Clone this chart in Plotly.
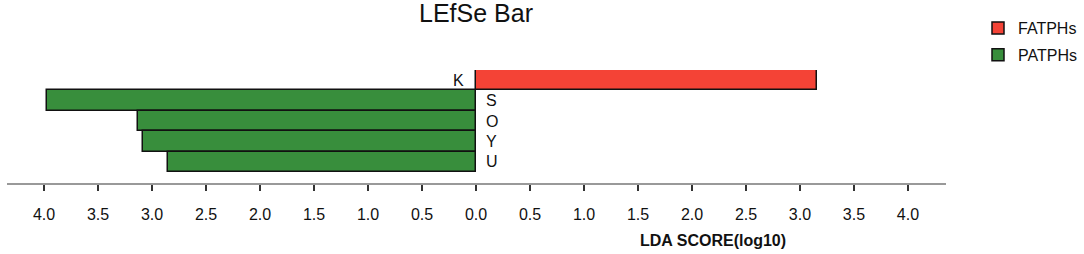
import plotly.graph_objects as go

# Data
features = ["K", "S", "O", "Y", "U"]
groups = ["FATPHs", "PATPHs", "PATPHs", "PATPHs", "PATPHs"]
lda_scores = [3.16, 3.97, 3.13, 3.08, 2.85]
group_names = ["FATPHs", "PATPHs"]
group_colors = {"FATPHs": "#F44336", "PATPHs": "#388E3C"}
tick_values = [-4.0, -3.5, -3.0, -2.5, -2.0, -1.5, -1.0, -0.5, 0.0, 0.5, 1.0, 1.5, 2.0, 2.5, 3.0, 3.5, 4.0]
tick_labels = ["%.1f" % abs(v) for v in tick_values]

FONT = "Liberation Sans, Arial, sans-serif"

fig = go.Figure()
for i, g in enumerate(group_names):
    xs, ys = [], []
    for f, grp, s in zip(features, groups, lda_scores):
        if grp == g:
            ys.append(f)
            xs.append(s if i == 0 else -s)
    fig.add_trace(go.Bar(
        x=xs, y=ys, orientation="h", name=g,
        marker=dict(color=group_colors[g], line=dict(color="#111111", width=1.5)),
        width=1.0, legendgroup=g, hoverinfo="x+y",
    ))

# Feature labels next to the zero line
for f, grp, s in zip(features, groups, lda_scores):
    pos = grp == group_names[0]
    fig.add_annotation(
        x=0, y=f, xref="x", yref="y", text=f, showarrow=False,
        xanchor="right" if pos else "left", xshift=-10 if pos else 8,
        font=dict(family=FONT, size=16, color="#111111"),
    )

fig.add_annotation(
    x=2.19, y=0, xref="x", yref="paper", yanchor="middle", yshift=-57,
    text="<b>LDA SCORE(log10)</b>", showarrow=False,
    font=dict(family=FONT, size=16, color="#111111"),
)

fig.update_layout(
    width=1084, height=254,
    margin=dict(l=7, r=138, t=70, b=71, autoexpand=False),
    paper_bgcolor="white", plot_bgcolor="white",
    barmode="overlay", bargap=0,
    title=dict(text="LEfSe Bar", x=476 / 1084, xanchor="center",
               y=1 - 13 / 254, yanchor="middle", yref="container",
               font=dict(family=FONT, size=25, color="#111111")),
    legend=dict(xref="container", yref="container", x=978 / 1084, y=1 - 11 / 254,
                xanchor="left", yanchor="top", traceorder="grouped", tracegroupgap=3,
                font=dict(family=FONT, size=16, color="#111111")),
    showlegend=True,
    xaxis=dict(range=[-4.343, 4.352], tickvals=tick_values, ticktext=tick_labels,
               showgrid=False, zeroline=False, showline=True, linecolor="#999999",
               linewidth=1.5, ticks="outside", ticklen=6, tickcolor="#333333",
               tickwidth=1.5, ticklabelstandoff=10,
               tickfont=dict(family=FONT, size=16, color="#111111"), fixedrange=True),
    yaxis=dict(type="category", categoryorder="array", categoryarray=features,
               range=[5.03, -0.5], visible=False, fixedrange=True),
)

fig.write_html("out.html", config={"displayModeBar": False},
               post_script="document.body.style.margin='0';")
